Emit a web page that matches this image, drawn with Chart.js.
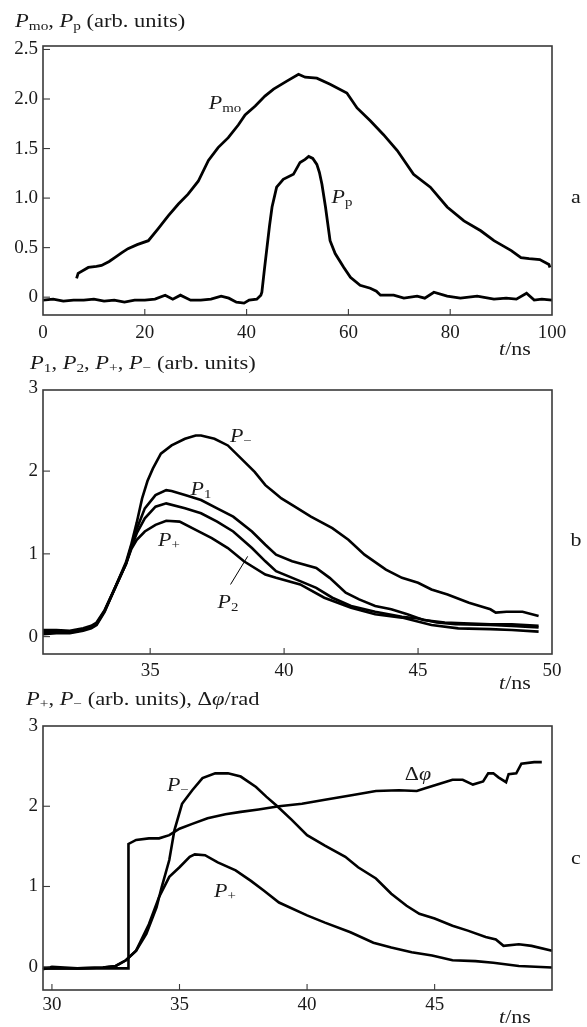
<!DOCTYPE html>
<html>
<head>
<meta charset="utf-8">
<script src="https://cdn.jsdelivr.net/npm/chart.js@4.4.1/dist/chart.umd.min.js"></script>
<style>
  html, body { margin: 0; padding: 0; background: #fff; }
  #wrap { position: relative; width: 587px; height: 1027px; overflow: hidden;
          font-family: "Liberation Serif", "DejaVu Serif", serif; color: #1a1a1a; }
  canvas { position: absolute; left: 0; }
  .txt { position: absolute; font-size: 18px; line-height: 1; white-space: nowrap;
         transform: scaleX(1.25); transform-origin: 0 0; }
  .lab { position: absolute; font-size: 18px; line-height: 1; white-space: nowrap;
         transform: translate(-50%, -50%) scaleX(1.22); }
  sub { font-size: 68%; vertical-align: -0.28em; line-height: 0; }
  i { font-style: italic; }
</style>
</head>
<body>
<div id="wrap">
  <canvas id="ca" width="587" height="350" style="top:0px"></canvas>
  <canvas id="cb" width="587" height="335" style="top:350px"></canvas>
  <canvas id="cc" width="587" height="342" style="top:685px"></canvas>

  <div class="txt" style="left:15px; top:12px"><i>P</i><sub>mo</sub>, <i>P</i><sub>p</sub> (arb. units)</div>
  <div class="txt" style="left:30px; top:354px"><i>P</i><sub>1</sub>, <i>P</i><sub>2</sub>, <i>P</i><sub>+</sub>, <i>P</i><sub>−</sub> (arb. units)</div>
  <div class="txt" style="left:26px; top:690px"><i>P</i><sub>+</sub>, <i>P</i><sub>−</sub> (arb. units), Δ<i>φ</i>/rad</div>

  <div class="lab" style="left:515px; top:349px"><i>t</i>/ns</div>
  <div class="lab" style="left:515px; top:683px"><i>t</i>/ns</div>
  <div class="lab" style="left:515px; top:1017px"><i>t</i>/ns</div>

  <div class="lab" style="left:576px; top:197px">a</div>
  <div class="lab" style="left:576px; top:540px">b</div>
  <div class="lab" style="left:576px; top:858px">c</div>
</div>
<script>
// ---------------- Panel a ----------------
const tMo = [6.6, 6.9, 8.9, 10.5, 11.5, 13.0, 14.1, 15.5, 16.7, 18.5, 20.7, 22.6, 24.6, 26.6, 28.5, 30.5, 32.5, 34.4, 36.4, 38.4, 39.7, 41.7, 43.6, 45.3, 47.9, 50.2, 51.5, 53.8, 56.4, 59.7, 61.7, 64.3, 66.9, 69.6, 72.8, 76.1, 79.4, 82.7, 86.0, 88.6, 90.3, 92.0, 93.9, 95.5, 97.6, 99.4, 99.6];
const pMo = [0.19, 0.24, 0.30, 0.31, 0.32, 0.36, 0.40, 0.45, 0.49, 0.53, 0.57, 0.69, 0.82, 0.94, 1.04, 1.17, 1.38, 1.51, 1.61, 1.74, 1.84, 1.93, 2.03, 2.10, 2.18, 2.25, 2.22, 2.21, 2.15, 2.06, 1.91, 1.78, 1.64, 1.48, 1.24, 1.11, 0.91, 0.77, 0.67, 0.57, 0.52, 0.47, 0.40, 0.39, 0.38, 0.33, 0.30];
const tPp = [0, 2, 4, 6, 8, 10, 12, 14, 16, 18, 20, 22, 24, 25.5, 27, 29, 31, 33, 35, 36.5, 38, 39.5, 40.5, 42, 42.8, 43.0, 43.5, 44.0, 44.5, 45.0, 45.9, 47.2, 49.2, 50.5, 51.5, 52.2, 53.0, 53.8, 54.3, 54.8, 55.5, 56.4, 57.4, 59.1, 60.4, 62.3, 64.3, 65.5, 66.3, 68.9, 70.9, 73.5, 75.0, 76.8, 79.4, 82.0, 85.3, 88.6, 91.0, 93.0, 95.0, 96.5, 98.0, 100];
const pPp = [-0.03, -0.02, -0.04, -0.03, -0.03, -0.02, -0.04, -0.03, -0.05, -0.03, -0.03, -0.02, 0.02, -0.02, 0.02, -0.03, -0.03, -0.02, 0.01, -0.01, -0.05, -0.06, -0.03, -0.02, 0.02, 0.05, 0.28, 0.50, 0.72, 0.91, 1.11, 1.19, 1.24, 1.36, 1.39, 1.42, 1.40, 1.34, 1.26, 1.14, 0.91, 0.57, 0.44, 0.30, 0.20, 0.12, 0.09, 0.06, 0.02, 0.02, -0.01, 0.01, -0.01, 0.05, 0.01, -0.01, 0.01, -0.02, -0.01, -0.02, 0.04, -0.03, -0.02, -0.03];
const xTicksA = [0, 20, 40, 60, 80, 100];
const yTicksA = [0, 0.5, 1.0, 1.5, 2.0, 2.5];

// ---------------- Panel b ----------------
const tMinusB = [31.0, 31.5, 32.0, 32.5, 32.8, 33.0, 33.3, 33.7, 34.1, 34.3, 34.5, 34.7, 34.9, 35.1, 35.4, 35.8, 36.3, 36.7, 36.9, 37.4, 37.9, 38.4, 38.9, 39.3, 39.6, 39.9, 40.4, 41.0, 41.8, 42.4, 43.0, 43.8, 44.4, 45.0, 45.5, 46.1, 46.9, 47.3, 47.7, 47.9, 48.3, 48.9, 49.5];
const pMinusB = [0.03, 0.04, 0.04, 0.07, 0.10, 0.14, 0.30, 0.60, 0.90, 1.12, 1.38, 1.67, 1.88, 2.03, 2.21, 2.31, 2.39, 2.43, 2.43, 2.39, 2.31, 2.15, 1.99, 1.83, 1.75, 1.67, 1.57, 1.45, 1.31, 1.17, 0.99, 0.81, 0.71, 0.65, 0.57, 0.51, 0.41, 0.37, 0.33, 0.29, 0.30, 0.30, 0.25];
const t1B = [31.0, 31.5, 32.0, 32.5, 32.8, 33.0, 33.3, 33.7, 34.1, 34.3, 34.5, 34.8, 35.2, 35.6, 35.8, 36.3, 36.9, 37.5, 38.1, 38.8, 39.3, 39.7, 40.3, 41.2, 41.7, 42.3, 42.8, 43.4, 44.0, 44.6, 45.2, 46.0, 46.7, 47.7, 48.5, 49.5];
const p1B = [0.06, 0.07, 0.06, 0.09, 0.12, 0.16, 0.31, 0.59, 0.88, 1.10, 1.30, 1.55, 1.71, 1.77, 1.76, 1.71, 1.65, 1.55, 1.45, 1.27, 1.11, 0.99, 0.91, 0.83, 0.71, 0.53, 0.45, 0.37, 0.33, 0.27, 0.20, 0.17, 0.16, 0.15, 0.15, 0.13];
const t2B = [31.0, 31.5, 32.0, 32.5, 32.8, 33.0, 33.3, 33.7, 34.1, 34.3, 34.5, 34.8, 35.2, 35.6, 36.3, 36.9, 37.5, 38.1, 38.8, 39.3, 39.7, 40.6, 41.2, 41.8, 42.5, 43.4, 44.4, 45.0, 45.7, 46.4, 47.7, 48.5, 49.5];
const p2B = [0.08, 0.08, 0.07, 0.10, 0.13, 0.17, 0.32, 0.60, 0.88, 1.08, 1.25, 1.43, 1.57, 1.61, 1.55, 1.49, 1.39, 1.27, 1.07, 0.91, 0.79, 0.67, 0.59, 0.47, 0.37, 0.30, 0.24, 0.22, 0.17, 0.15, 0.14, 0.13, 0.11];
const tPlusB = [31.0, 31.5, 32.0, 32.5, 32.8, 33.0, 33.3, 33.7, 34.1, 34.3, 34.5, 34.8, 35.2, 35.6, 36.1, 36.7, 37.3, 37.9, 38.5, 39.3, 39.7, 40.6, 41.5, 42.5, 43.4, 44.4, 45.5, 46.5, 47.7, 48.5, 49.5];
const pPlusB = [0.04, 0.05, 0.05, 0.08, 0.11, 0.15, 0.31, 0.60, 0.88, 1.06, 1.17, 1.27, 1.35, 1.40, 1.39, 1.29, 1.19, 1.07, 0.91, 0.75, 0.71, 0.63, 0.47, 0.35, 0.27, 0.23, 0.14, 0.10, 0.09, 0.08, 0.06];
const leaderT = [38.0, 38.64];
const leaderV = [0.63, 0.97];
const xTicksB = [35, 40, 45, 50];
const yTicksB = [0, 1, 2, 3];

// ---------------- Panel c ----------------
const tPhiC = [29.65, 30.0, 31.0, 32.0, 33.0, 33.0, 33.3, 33.8, 34.2, 34.6, 35.0, 35.5, 36.1, 36.8, 37.4, 38.1, 38.9, 39.8, 40.7, 41.8, 42.7, 43.6, 44.3, 44.6, 45.2, 45.7, 46.1, 46.5, 46.9, 47.1, 47.3, 47.5, 47.8, 47.9, 48.2, 48.4, 48.9, 49.2];
const phiC = [-0.03, 0.0, -0.02, -0.02, -0.02, 1.53, 1.58, 1.60, 1.60, 1.64, 1.72, 1.78, 1.85, 1.90, 1.93, 1.96, 2.00, 2.03, 2.08, 2.14, 2.19, 2.20, 2.19, 2.22, 2.28, 2.33, 2.33, 2.27, 2.31, 2.41, 2.41, 2.36, 2.30, 2.40, 2.41, 2.53, 2.55, 2.55];
const tMinusC = [29.65, 31.0, 32.0, 32.5, 32.9, 33.3, 33.7, 34.1, 34.3, 34.6, 34.8, 35.1, 35.5, 35.9, 36.4, 36.9, 37.4, 38.0, 38.4, 38.8, 39.4, 40.0, 40.7, 41.5, 42.0, 42.7, 43.3, 43.9, 44.4, 45.0, 45.7, 46.3, 47.0, 47.4, 47.7, 48.3, 48.8, 49.6];
const pMinusC = [-0.02, -0.02, -0.01, 0.01, 0.08, 0.20, 0.41, 0.74, 0.99, 1.33, 1.70, 2.03, 2.20, 2.35, 2.41, 2.41, 2.37, 2.24, 2.12, 2.01, 1.83, 1.64, 1.51, 1.37, 1.24, 1.10, 0.91, 0.76, 0.66, 0.60, 0.51, 0.45, 0.37, 0.34, 0.26, 0.28, 0.26, 0.20];
const tPlusC = [29.65, 31.0, 32.0, 32.5, 32.9, 33.3, 33.8, 34.2, 34.6, 35.0, 35.4, 35.6, 36.0, 36.5, 37.2, 37.8, 38.3, 38.9, 40.0, 40.7, 41.7, 42.6, 43.3, 44.1, 44.9, 45.7, 46.6, 47.3, 48.3, 49.6];
const pPlusC = [-0.02, -0.02, -0.01, 0.01, 0.08, 0.20, 0.53, 0.87, 1.12, 1.24, 1.37, 1.40, 1.39, 1.30, 1.20, 1.07, 0.95, 0.80, 0.64, 0.55, 0.43, 0.30, 0.24, 0.18, 0.14, 0.08, 0.07, 0.05, 0.01, -0.01];
const xTicksC = [30, 35, 40, 45];
const yTicksC = [0, 1, 2, 3];

// ---------------- Curve annotations (data coordinates) ----------------
const notesA = [
  { html: '<i>P</i><sub>mo</sub>', t: 35.8, v: 1.96 },
  { html: '<i>P</i><sub>p</sub>', t: 58.8, v: 1.01 }
];
const notesB = [
  { html: '<i>P</i><sub>−</sub>', t: 38.4, v: 2.42 },
  { html: '<i>P</i><sub>1</sub>', t: 36.9, v: 1.78 },
  { html: '<i>P</i><sub>+</sub>', t: 35.7, v: 1.17 },
  { html: '<i>P</i><sub>2</sub>', t: 37.9, v: 0.42 }
];
const notesC = [
  { html: '<i>P</i><sub>−</sub>', t: 34.95, v: 2.26 },
  { html: '<i>P</i><sub>+</sub>', t: 36.8, v: 0.94 },
  { html: 'Δ<i>φ</i>', t: 44.35, v: 2.40 }
];

// ---------------- helpers ----------------
const pts = (xs, ys) => xs.map((x, i) => ({ x: x, y: ys[i] }));
const FONT = { family: '"Liberation Serif", "DejaVu Serif", serif', size: 19 };
const INK = '#1a1a1a';

const frameTicks = {
  id: 'frameTicks',
  afterDatasetsDraw(chart) {
    const { ctx, chartArea: ca, scales } = chart;
    ctx.save();
    ctx.strokeStyle = '#3a3a3a';
    ctx.lineWidth = 1.6;
    ctx.strokeRect(ca.left, ca.top, ca.right - ca.left, ca.bottom - ca.top);
    ctx.lineWidth = 1.1;
    scales.x.ticks.forEach(t => {
      const px = scales.x.getPixelForValue(t.value);
      if (px > ca.left + 2 && px < ca.right - 2) {
        ctx.beginPath(); ctx.moveTo(px, ca.bottom); ctx.lineTo(px, ca.bottom - 6); ctx.stroke();
      }
    });
    scales.y.ticks.forEach(t => {
      const py = scales.y.getPixelForValue(t.value);
      if (py > ca.top + 2 && py < ca.bottom - 2) {
        ctx.beginPath(); ctx.moveTo(ca.left, py); ctx.lineTo(ca.left + 7, py); ctx.stroke();
      }
    });
    ctx.restore();
  }
};

function makeChart(id, cfg) {
  const datasets = cfg.series.map(s => ({
    data: s.data,
    borderColor: '#000',
    borderWidth: s.width || 2.6,
    pointRadius: 0,
    tension: 0,
    fill: false,
    clip: 3
  }));
  const chart = new Chart(document.getElementById(id), {
    type: 'line',
    data: { datasets: datasets },
    plugins: [frameTicks],
    options: {
      responsive: false,
      maintainAspectRatio: false,
      devicePixelRatio: 1,
      animation: false,
      events: [],
      layout: { padding: { top: cfg.padTop, right: 35, bottom: 0, left: 0 } },
      plugins: { legend: { display: false }, tooltip: { enabled: false } },
      scales: {
        x: {
          type: 'linear', min: cfg.xMin, max: cfg.xMax,
          afterBuildTicks: ax => { ax.ticks = cfg.xTicks.map(v => ({ value: v })); },
          afterFit: ax => { ax.height = cfg.xAxisH; },
          ticks: { font: FONT, color: INK, padding: cfg.xPad, maxRotation: 0, autoSkip: false,
                   callback: v => String(v) },
          grid: { display: false, drawTicks: false },
          border: { display: false }
        },
        y: {
          type: 'linear', min: cfg.yMin, max: cfg.yMax,
          afterBuildTicks: ax => { ax.ticks = cfg.yTicks.map(v => ({ value: v })); },
          afterFit: ax => { ax.width = 43; },
          ticks: { font: FONT, color: INK, padding: 5, autoSkip: false, callback: cfg.yFmt },
          grid: { display: false, drawTicks: false },
          border: { display: false }
        }
      }
    }
  });
  // place curve annotations through the chart's own scales
  const canvas = document.getElementById(id);
  const offTop = parseFloat(canvas.style.top);
  const wrap = document.getElementById('wrap');
  cfg.notes.forEach(n => {
    const d = document.createElement('div');
    d.className = 'lab';
    d.innerHTML = n.html;
    d.style.left = chart.scales.x.getPixelForValue(n.t) + 'px';
    d.style.top = (offTop + chart.scales.y.getPixelForValue(n.v)) + 'px';
    wrap.appendChild(d);
  });
  return chart;
}

makeChart('ca', {
  padTop: 46, xAxisH: 35, xPad: 6.5,
  xMin: 0, xMax: 100, yMin: -0.18, yMax: 2.535,
  xTicks: xTicksA, yTicks: yTicksA,
  yFmt: v => (v === 0 ? '0' : Number(v).toFixed(1)),
  series: [ { data: pts(tMo, pMo), width: 2.8 }, { data: pts(tPp, pPp), width: 2.8 } ],
  notes: notesA
});

makeChart('cb', {
  padTop: 40, xAxisH: 31, xPad: 5.5,
  xMin: 31.0, xMax: 50, yMin: -0.21, yMax: 2.98,
  xTicks: xTicksB, yTicks: yTicksB,
  yFmt: v => String(v),
  series: [
    { data: pts(tMinusB, pMinusB) },
    { data: pts(t1B, p1B) },
    { data: pts(t2B, p2B) },
    { data: pts(tPlusB, pPlusB) },
    { data: pts(leaderT, leaderV), width: 1 }
  ],
  notes: notesB
});

makeChart('cc', {
  padTop: 41, xAxisH: 37, xPad: 3.5,
  xMin: 29.65, xMax: 49.6, yMin: -0.29, yMax: 3.0,
  xTicks: xTicksC, yTicks: yTicksC,
  yFmt: v => String(v),
  series: [
    { data: pts(tPhiC, phiC) },
    { data: pts(tMinusC, pMinusC) },
    { data: pts(tPlusC, pPlusC) }
  ],
  notes: notesC
});
</script>
</body>
</html>
